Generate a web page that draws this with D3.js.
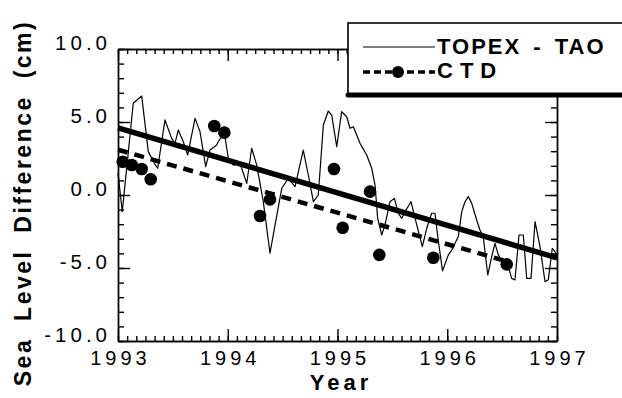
<!DOCTYPE html>
<html>
<head>
<meta charset="utf-8">
<title>Sea level difference</title>
<style>
  body { margin: 0; background: #fff; }
  svg { display: block; }
  text { font-family: "Liberation Sans", Arial, Helvetica, sans-serif; fill: #000; }
  .axis path, .axis line { stroke: #000; stroke-width: 1.4; fill: none; }
  .axis text { font-size: 20px; letter-spacing: 4px; }
</style>
</head>
<body>
<svg width="622" height="398"></svg>
<script src="https://d3js.org/d3.v7.min.js"></script>
<script>
// TOPEX - TAO difference (decimal year, cm)
var topexYears = [1993.000, 1993.039, 1993.139, 1993.216, 1993.276, 1993.331, 1993.362, 1993.428,
  1993.489, 1993.519, 1993.549, 1993.595, 1993.635, 1993.702, 1993.747, 1993.799, 1993.838,
  1993.899, 1993.914, 1993.969, 1994.005, 1994.051, 1994.112, 1994.142, 1994.173, 1994.218,
  1994.264, 1994.324, 1994.385, 1994.431, 1994.492, 1994.552, 1994.613, 1994.688, 1994.734,
  1994.780, 1994.825, 1994.871, 1994.916, 1994.947, 1994.993, 1995.038, 1995.084, 1995.114,
  1995.144, 1995.175, 1995.205, 1995.266, 1995.312, 1995.342, 1995.366, 1995.403, 1995.433,
  1995.478, 1995.518, 1995.554, 1995.585, 1995.615, 1995.670, 1995.722, 1995.773, 1995.813,
  1995.858, 1995.888, 1995.916, 1995.957, 1996.010, 1996.041, 1996.101, 1996.132, 1996.162,
  1996.192, 1996.223, 1996.268, 1996.298, 1996.328, 1996.369, 1996.405, 1996.435, 1996.465,
  1996.511, 1996.556, 1996.587, 1996.617, 1996.654, 1996.693, 1996.724, 1996.763, 1996.800,
  1996.845, 1996.891, 1996.921, 1996.957, 1996.982, 1997.000];
var topexValues = [1.5, -1.14, 6.28, 6.78, 2.97, 2.17, 1.83, 5.14,
  3.88, 3.54, 4.45, 3.65, 2.74, 5.25, 4.34, 1.94, 3.08,
  3.42, 3.65, 4.3, 2.5, 2.05, 2.17, 1.49, 0.8, 3.2,
  2.05, -0.46, -3.99, -2.05, 0.46, 1.14, 0.57, 3.08, 1.37,
  -0.46, 0.0, 4.79, 5.75, 5.48, 3.31, 5.71, 5.36, 4.57,
  4.68, 4.11, 3.54, 2.74, 1.83, 0.68, -1.6, -2.74, -2.05,
  -0.46, -0.23, -1.25, -1.6, -1.14, -0.46, -2.05, -3.54, -2.28,
  -1.25, -1.25, -3.0, -5.2, -4.1, -3.77, -2.85, -1.14, -0.46,
  -0.11, -0.57, -1.71, -2.4, -2.85, -5.48, -4.22, -3.31, -4.1,
  -4.68, -4.91, -5.71, -5.82, -2.74, -2.74, -5.71, -5.71, -1.83,
  -3.54, -5.94, -5.8, -3.65, -3.88, -4.3];

// CTD points
var ctdYears = [1993.043, 1993.125, 1993.216, 1993.298, 1993.877, 1993.969, 1994.294,
  1994.385, 1994.968, 1995.047, 1995.296, 1995.381, 1995.873, 1996.542];
var ctdValues = [2.28, 2.05, 1.78, 1.08, 4.73, 4.27, -1.44,
  -0.3, 1.78, -2.24, 0.23, -4.1, -4.3, -4.75];

// linear trends
var trendTopexYears = [1993.0, 1997.0];
var trendTopexValues = [4.6, -4.3];
var trendCtdYears = [1993.0, 1996.57];
var trendCtdValues = [3.1, -4.6];

// ticks
var yearTicks = [1993, 1994, 1995, 1996, 1997];
var valueTicks = [-10, -5, 0, 5, 10];

var svg = d3.select("svg"),
    margin = {top: 49, right: 65, bottom: 57, left: 118},
    width = +svg.attr("width") - margin.left - margin.right,
    height = +svg.attr("height") - margin.top - margin.bottom,
    g = svg.append("g").attr("transform", "translate(" + margin.left + "," + margin.top + ")");

var x = d3.scaleLinear().domain([1993, 1997]).range([0, width]),
    y = d3.scaleLinear().domain([-10, 10]).range([height, 0]);

var monthTicks = d3.range(0, 49).map(function(i) { return 1993 + i / 12; }),
    cmTicks = d3.range(-10, 11);

// minor ticks on all four sides
g.append("g").attr("class", "axis").attr("transform", "translate(0," + height + ")")
  .call(d3.axisBottom(x).tickValues(monthTicks).tickSize(-5).tickSizeOuter(0).tickFormat(""));
g.append("g").attr("class", "axis")
  .call(d3.axisTop(x).tickValues(monthTicks).tickSize(-5).tickSizeOuter(0).tickFormat(""));
g.append("g").attr("class", "axis")
  .call(d3.axisLeft(y).tickValues(cmTicks).tickSize(-6).tickSizeOuter(0).tickFormat(""));
g.append("g").attr("class", "axis").attr("transform", "translate(" + width + ",0)")
  .call(d3.axisRight(y).tickValues(cmTicks).tickSize(-6).tickSizeOuter(0).tickFormat(""));

// major ticks + labels
var xAxis = g.append("g").attr("class", "axis").attr("transform", "translate(0," + height + ")")
  .call(d3.axisBottom(x).tickValues(yearTicks).tickSize(-12).tickSizeOuter(0).tickFormat(d3.format("d")));
xAxis.selectAll("text").attr("y", 24).attr("dy", 0).attr("dx", 2);
g.append("g").attr("class", "axis")
  .call(d3.axisTop(x).tickValues(yearTicks).tickSize(-12).tickSizeOuter(0).tickFormat(""));
var yAxis = g.append("g").attr("class", "axis")
  .call(d3.axisLeft(y).tickValues(valueTicks).tickSize(-12).tickSizeOuter(0)
    .tickFormat(function(d) { return d.toFixed(1); }));
yAxis.selectAll("text").attr("x", -7).attr("dy", 0).style("font-size", "20.5px");
g.append("g").attr("class", "axis").attr("transform", "translate(" + width + ",0)")
  .call(d3.axisRight(y).tickValues(valueTicks).tickSize(-12).tickSizeOuter(0).tickFormat(""));

// TOPEX - TAO thin line
var topex = topexYears.map(function(d, i) { return [d, topexValues[i]]; });
var line = d3.line().x(function(d) { return x(d[0]); }).y(function(d) { return y(d[1]); });
g.append("path").datum(topex).attr("d", line)
  .attr("fill", "none").attr("stroke", "#000").attr("stroke-width", 1.2).attr("stroke-linejoin", "round");

// trends
g.append("path").datum(trendTopexYears.map(function(d, i) { return [d, trendTopexValues[i]]; }))
  .attr("d", line).attr("fill", "none").attr("stroke", "#000").attr("stroke-width", 5.5);
g.append("path").datum(trendCtdYears.map(function(d, i) { return [d, trendCtdValues[i]]; }))
  .attr("d", line).attr("fill", "none").attr("stroke", "#000").attr("stroke-width", 4.5)
  .attr("stroke-dasharray", "10,7");

// CTD dots
g.selectAll(".ctd").data(ctdYears).enter().append("circle")
  .attr("class", "ctd")
  .attr("cx", function(d) { return x(d); })
  .attr("cy", function(d, i) { return y(ctdValues[i]); })
  .attr("r", 6.3).attr("fill", "#000");

// legend box
var lg = svg.append("g");
lg.append("rect").attr("x", 348).attr("y", 23).attr("width", 300).attr("height", 72)
  .attr("fill", "#fff").attr("stroke", "#000").attr("stroke-width", 1.6);
lg.append("line").attr("x1", 348).attr("x2", 622).attr("y1", 95).attr("y2", 95)
  .attr("stroke", "#000").attr("stroke-width", 5).attr("stroke-linecap", "round");
lg.append("line").attr("x1", 363).attr("x2", 435).attr("y1", 47).attr("y2", 47)
  .attr("stroke", "#000").attr("stroke-width", 1.2);
lg.append("text").attr("x", 437).attr("y", 54).text("TOPEX - TAO")
  .style("font-size", "22px").style("font-weight", "bold").style("letter-spacing", "2px")
  .style("word-spacing", "4px");
lg.append("line").attr("x1", 363).attr("x2", 435).attr("y1", 72).attr("y2", 72)
  .attr("stroke", "#000").attr("stroke-width", 3.5).attr("stroke-dasharray", "7,4");
lg.append("circle").attr("cx", 398).attr("cy", 72).attr("r", 6).attr("fill", "#000");
lg.append("text").attr("x", 437).attr("y", 78).text("CTD")
  .style("font-size", "22px").style("font-weight", "bold").style("letter-spacing", "7px");

// axis titles
svg.append("text").attr("x", 341).attr("y", 390).attr("text-anchor", "middle").text("Year")
  .style("font-size", "22px").style("font-weight", "bold").style("letter-spacing", "4px");
svg.append("text").attr("transform", "translate(31,203) rotate(-90)").attr("text-anchor", "middle")
  .text("Sea Level Difference (cm)")
  .style("font-size", "23px").style("font-weight", "bold").style("letter-spacing", "2.5px")
  .style("word-spacing", "8px");
</script>
</body>
</html>
